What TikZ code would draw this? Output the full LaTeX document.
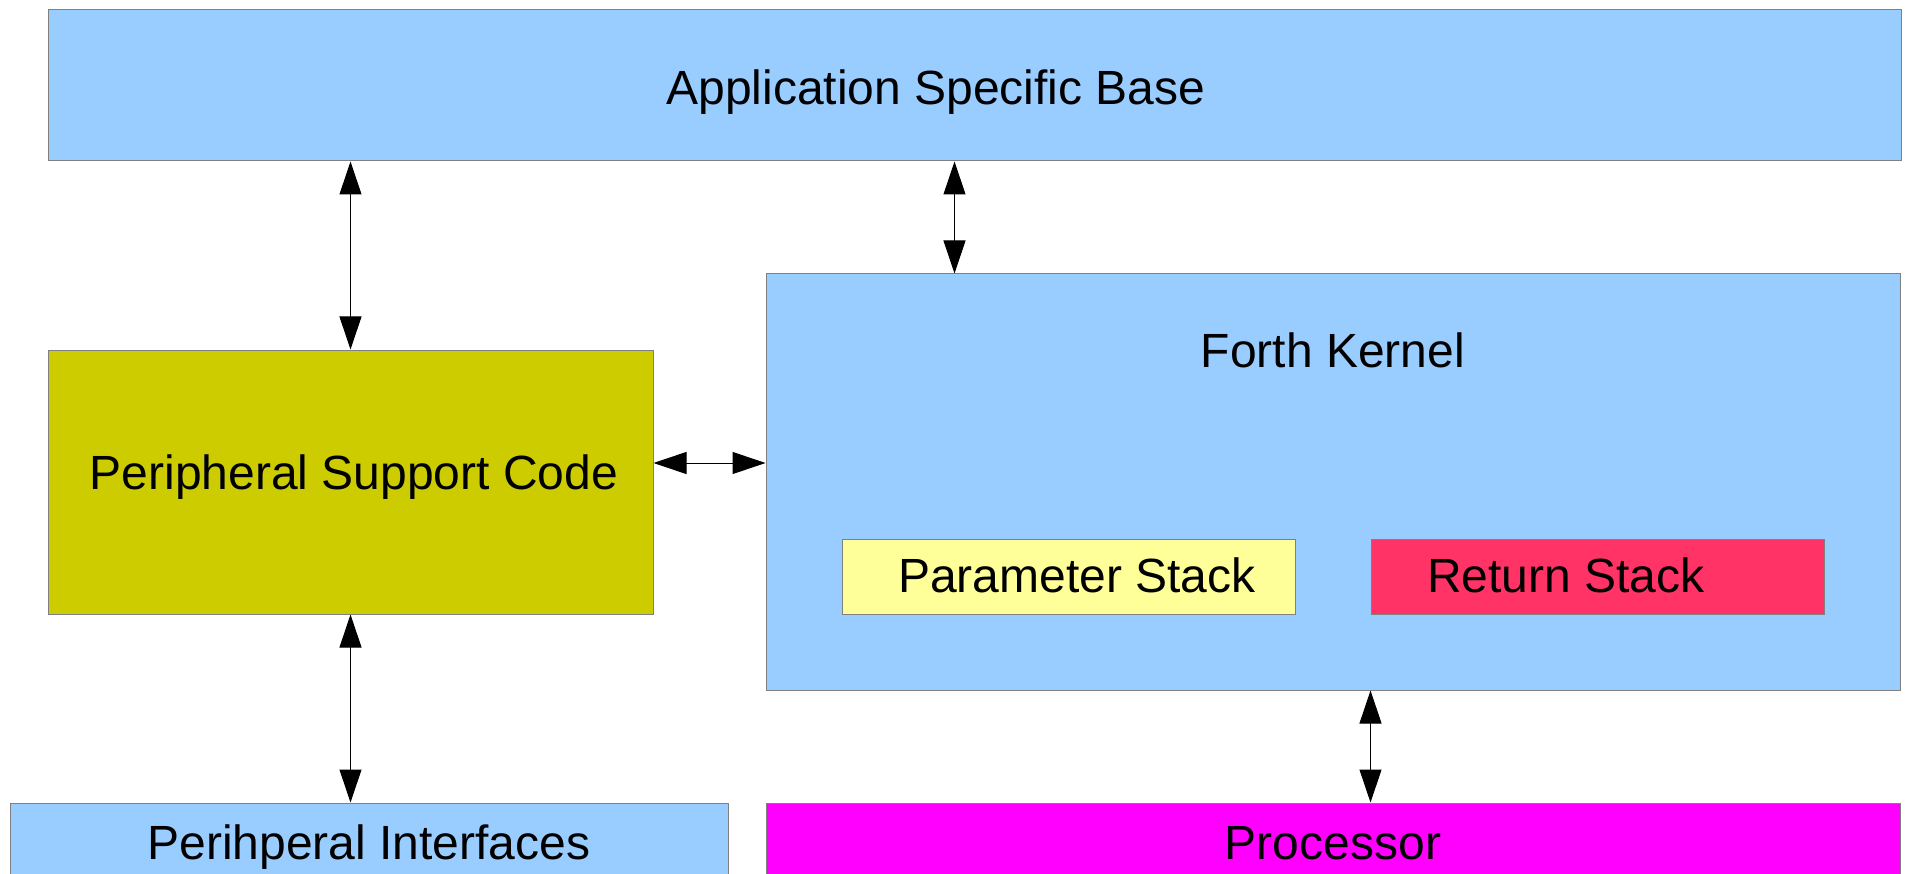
\documentclass[tikz,border=0pt]{standalone}
\usepackage{fontspec}
\setmainfont{Liberation Sans}
\usetikzlibrary{arrows.meta}

\definecolor{skyblue}{HTML}{99CCFF}
\definecolor{olive}{HTML}{CCCC00}
\definecolor{paleyellow}{HTML}{FFFF99}
\definecolor{rosered}{HTML}{FF3366}
\definecolor{magentabox}{HTML}{FF00FF}

\tikzset{
	box/.style={draw=gray, line width=1pt, inner sep=0pt},
	lbl/.style={anchor=base, inner sep=0pt, font=\fontsize{48}{57}\selectfont},
	link/.style={line width=1pt, {Triangle[length=33pt,width=22pt]}-{Triangle[length=33pt,width=22pt]}}
}

\begin{document}
\begin{tikzpicture}[x=1pt,y=-1pt]
		\useasboundingbox (0,0) rectangle (1913,874);

		% boxes
		\node[box, fill=skyblue, minimum width=1853pt, minimum height=151pt] (asb) at (974.5,85.5) {};
		\node[box, fill=skyblue, minimum width=1134pt, minimum height=416pt] (kernel) at (1333,482) {};
		\node[box, fill=olive, minimum width=605pt, minimum height=264pt] (psc) at (350.5,482) {};
		\node[box, fill=paleyellow, minimum width=453pt, minimum height=75pt] (pstack) at (1068.5,576.5) {};
		\node[box, fill=rosered, minimum width=453pt, minimum height=75pt] (rstack) at (1597.5,576.5) {};
		\node[box, fill=skyblue, minimum width=718pt, minimum height=77pt] (pif) at (369,841.5) {};
		\node[box, fill=magentabox, minimum width=1134pt, minimum height=77pt] (proc) at (1333,841.5) {};

		% labels
		\node[lbl] (asbtxt) at (936,105) {Application Specific Base};
		\node[lbl] (kerneltxt) at (1333,367) {Forth Kernel};
		\node[lbl] (psctxt) at (354,489) {Peripheral Support Code};
		\node[lbl] (pstacktxt) at (1077,592) {Parameter Stack};
		\node[lbl] (rstacktxt) at (1566,592) {Return Stack};
		\node[lbl] (piftxt) at (369,859) {Perihperal Interfaces};
		\node[lbl] (proctxt) at (1333,859) {Processor};

		% connections
		\draw[link] (asb.south -| psc.north) -- (psc.north);
		\draw[link] ([xshift=189pt]kernel.north west |- asb.south) -- ([xshift=189pt]kernel.north west);
		\draw[link] ([yshift=19pt]psc.east) -- ([yshift=19pt]psc.east -| kernel.west);
		\draw[link] (psc.south) -- (psc.south |- pif.north);
		\draw[link] (rstack.west |- kernel.south) -- (rstack.west |- proc.north);
\end{tikzpicture}
\end{document}
